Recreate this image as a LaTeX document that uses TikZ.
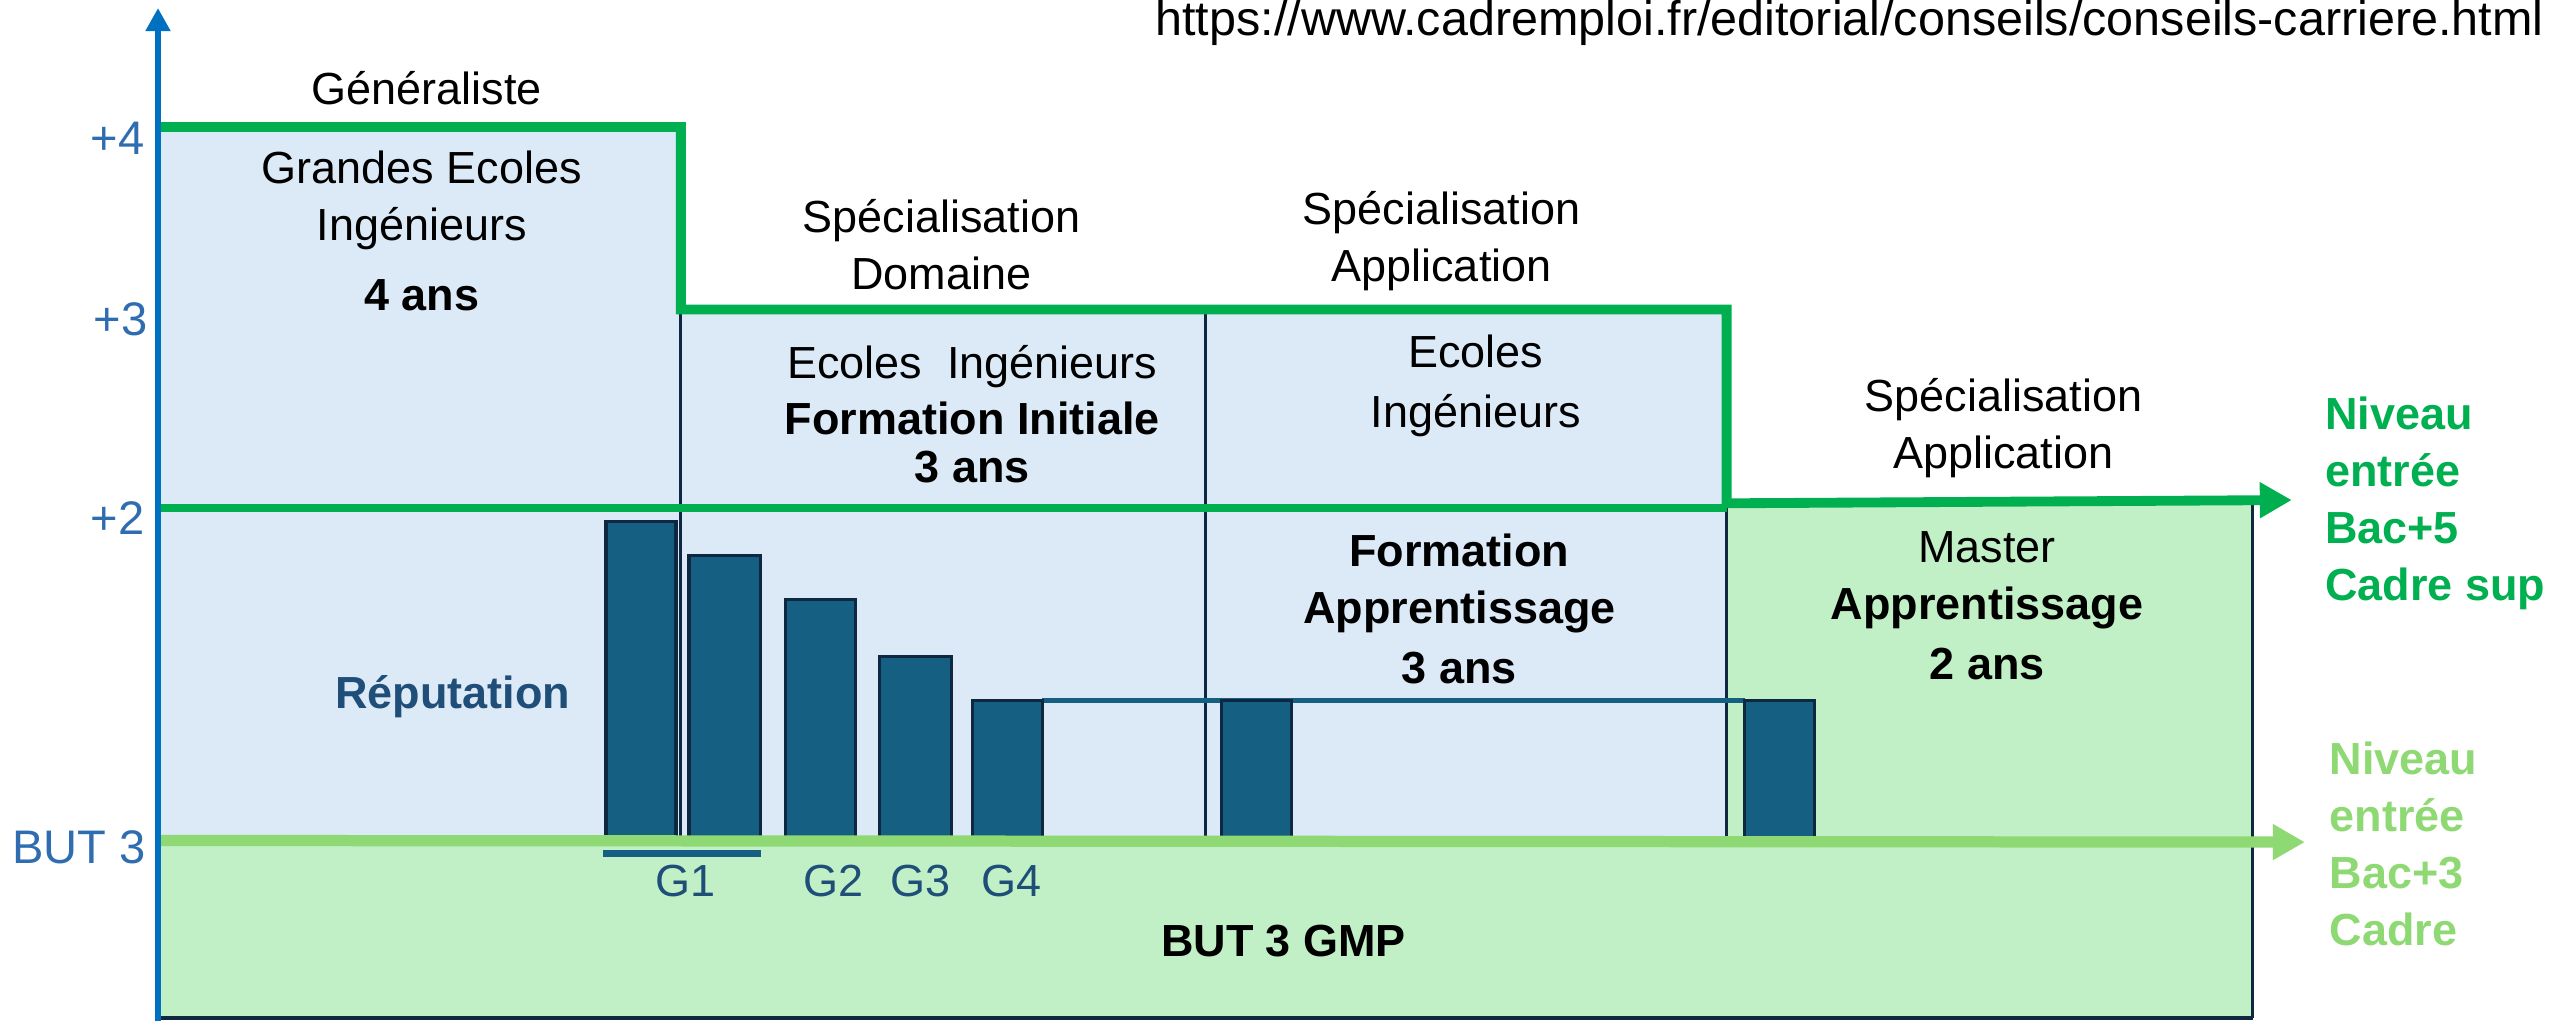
\documentclass[tikz,border=0pt]{standalone}
\usepackage{fontspec}
\setmainfont{Liberation Sans}
\usetikzlibrary{arrows.meta}

\definecolor{bleuclair}{HTML}{DCE9F6}
\definecolor{vertclair}{HTML}{C2F0C6}
\definecolor{vertfonce}{HTML}{00B050}
\definecolor{vertpale}{HTML}{8ED973}
\definecolor{barrebleue}{HTML}{156082}
\definecolor{marine}{HTML}{0E2841}
\definecolor{axebleu}{HTML}{0070C0}
\definecolor{gradbleu}{HTML}{2F6DB0}
\definecolor{reput}{HTML}{1F4E79}

\tikzset{
	txt/.style={font=\fontsize{12.8}{16.2}\selectfont, align=center, inner sep=0pt},
	gras/.style={txt, font=\fontsize{12.8}{16.2}\selectfont\bfseries},
	grad/.style={txt, font=\fontsize{13.4}{16.2}\selectfont, text=gradbleu, anchor=east},
	baton/.style={fill=barrebleue, draw=marine, line width=0.9pt},
	separation/.style={draw=marine, line width=0.9pt},
	fleche/.style={-{Triangle[length=3.2mm, width=3.4mm]}}
}

\begin{document}
\begin{tikzpicture}[x=0.1629mm, y=-0.1629mm]
	\useasboundingbox (0,0) rectangle (1568,629);
	% fonds
	\fill[bleuclair] (97,78) -- (418,78) -- (418,190) -- (1060,190)
		-- (1060,515) -- (97,515) -- cycle;
	\fill[vertclair] (97,515) -- (1060,515) -- (1060,310) -- (1383,310)
		-- (1383,625) -- (97,625) -- cycle;
	% separations
	\draw[separation] (418,190) -- (418,515)
		(740,190) -- (740,515)
		(1060,310) -- (1060,515)
		(1383,310) -- (1383,625)
		(97,625) -- (1383,625);
	% batons de reputation
	\draw[barrebleue, line width=1.3pt] (640,430) -- (1071,430);
	\foreach \xa/\xb/\h in {372/415/320, 423/467/341, 482/525/368,
		540/584/403, 597/640/430, 750/793/430, 1071/1114/430}
		\filldraw[baton] (\xa,515) rectangle (\xb,\h);
	\draw[barrebleue, line width=2.2pt] (370,524) -- (467,524);
	% niveaux
	\draw[vertfonce, line width=2.2pt] (97,312) -- (1060,312);
	\draw[vertfonce, line width=2.8pt, fleche] (97,78) -- (418,78) -- (418,190)
		-- (1060,190) -- (1060,309) -- (1407,307);
	\draw[vertpale, line width=3.2pt, fleche] (97,516) -- (1415,517);
	% axe
	\draw[axebleu, line width=1.5pt, -{Triangle[length=2.3mm, width=2.4mm]}]
		(97,627) -- (97,5);

	\node[grad] (plus4) at (89,85) {+4};
	\node[grad] (plus3) at (91,196) {+3};
	\node[grad] (plus2) at (89,318) {+2};
	\node[grad] (but3) at (90,520) {BUT 3};

	\node[txt, font=\fontsize{13.8}{16.2}\selectfont, anchor=east] (url) at (1562,14)
		{https://www.cadremploi.fr/editorial/conseils/conseils-carriere.html};

	\node[txt] (generaliste) at (262,54) {Généraliste};
	\node[txt] (grandes) at (259,142)
		{Grandes Ecoles\\Ingénieurs\\[3.7pt]\textbf{4 ans}};
	\node[txt] (specdom) at (578,150) {Spécialisation\\Domaine};
	\node[txt] (specapp) at (885,148) {Spécialisation\\Application};
	\node[txt] (initiale) at (597,254)
		{Ecoles\ \ Ingénieurs\\\textbf{Formation Initiale}\\[-2.8pt]\textbf{3 ans}};
	\node[txt] (ecoles) at (906,237) {Ecoles\\[1pt]Ingénieurs};
	\node[gras] (apprent) at (896,374) {Formation\\Apprentissage\\[1pt]3 ans};
	\node[txt] (specmaster) at (1230,263) {Spécialisation\\Application};
	\node[txt] (master) at (1220,372)
		{Master\\\textbf{Apprentissage}\\[1pt]\textbf{2 ans}};

	\node[gras, text=vertfonce, anchor=west, align=left] (bac5) at (1427,309)
		{Niveau\\entrée\\Bac+5\\Cadre sup};
	\node[gras, text=vertpale, anchor=west, align=left] (bac3) at (1430,518)
		{Niveau\\entrée\\Bac+3\\Cadre};

	\node[gras, text=reput] (reputation) at (278,428) {Réputation};
	\foreach \x/\g in {421/G1, 512/G2, 565/G3, 621/G4}
		\node[txt, text=reput] (\g) at (\x,541) {\g};
	\node[gras] (gmp) at (788,578) {BUT 3 GMP};
\end{tikzpicture}
\end{document}
